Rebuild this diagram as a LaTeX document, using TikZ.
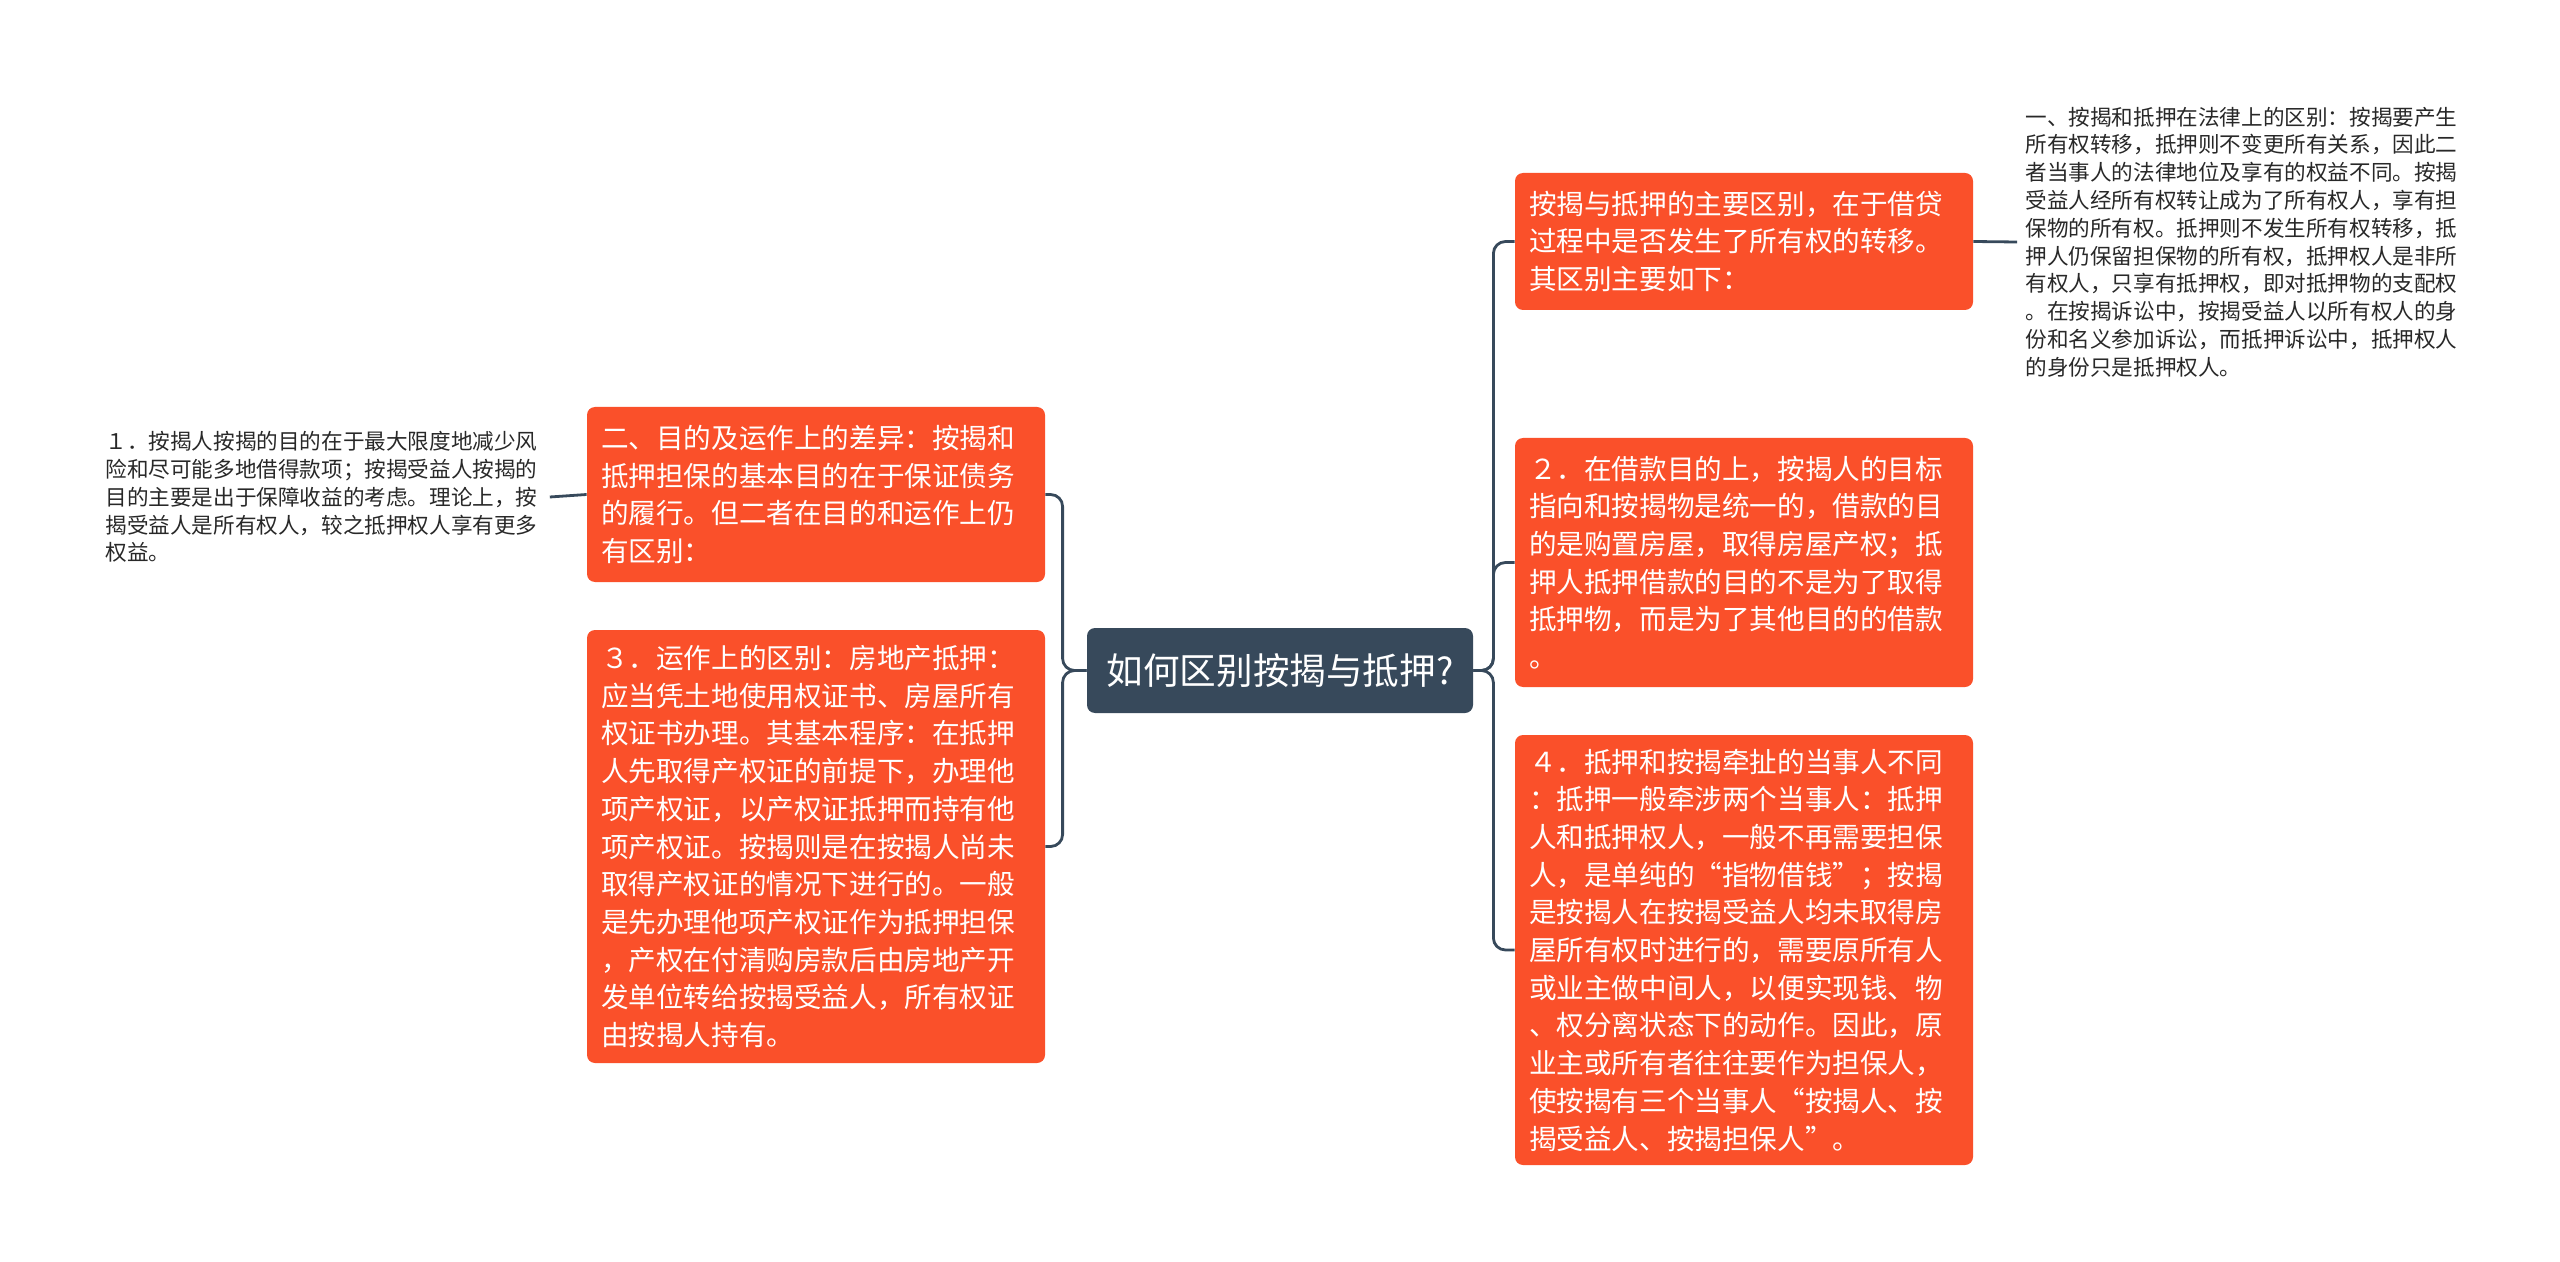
\documentclass[tikz,border=0pt]{standalone}
\usepackage{fontspec}
\setmainfont{Noto Sans CJK SC}
\usepackage{xcolor}
\usetikzlibrary{positioning}
\definecolor{rootc}{RGB}{55,73,91}
\definecolor{boxc}{RGB}{250,80,42}
\definecolor{linkc}{RGB}{55,73,91}
\definecolor{notec}{RGB}{40,40,40}
\tikzset{%
	root/.style   = {rectangle, rounded corners=4pt, fill=rootc, text=white, minimum width=193pt, minimum height=42.5pt, inner sep=0pt, font=\fontsize{18.3}{22}\selectfont},
	branch/.style = {rectangle, rounded corners=4pt, fill=boxc, text=white, text width=215pt, inner xsep=7pt, inner ysep=0pt, align=left, font=\fontsize{13.8}{18.85}\selectfont},
	note/.style   = {text=notec, text width=218pt, inner xsep=4pt, inner ysep=0pt, align=left, font=\fontsize{10.8}{13.9}\selectfont},
	link/.style   = {draw=linkc, line width=1.4pt, rounded corners=6pt},
}
\begin{document}
\begin{tikzpicture}[x=0.5pt,y=-0.5pt]
	\useasboundingbox (0,0) rectangle (2560,1262);
	
	\node[root] (root) at (1280,670.5) {如何区别按揭与抵押?};
	
	% right side
	\node[branch, minimum height=68.5pt] (r1) at (1744,241.5) {按揭与抵押的主要区别，在于借贷\\过程中是否发生了所有权的转移。\\其区别主要如下：};
	\node[branch, minimum height=124.5pt] (r2) at (1744,562.5) {２．在借款目的上，按揭人的目标\\指向和按揭物是统一的，借款的目\\的是购置房屋，取得房屋产权；抵\\押人抵押借款的目的不是为了取得\\抵押物，而是为了其他目的的借款\\。};
	\node[branch, minimum height=215pt] (r3) at (1744,950) {４．抵押和按揭牵扯的当事人不同\\：抵押一般牵涉两个当事人：抵押\\人和抵押权人，一般不再需要担保\\人，是单纯的“指物借钱”；按揭\\是按揭人在按揭受益人均未取得房\\屋所有权时进行的，需要原所有人\\或业主做中间人，以便实现钱、物\\、权分离状态下的动作。因此，原\\业主或所有者往往要作为担保人，\\使按揭有三个当事人“按揭人、按\\揭受益人、按揭担保人”。};
	\node[note, anchor=west] (rnote) at (2017,242) {一、按揭和抵押在法律上的区别：按揭要产生\\所有权转移，抵押则不变更所有关系，因此二\\者当事人的法律地位及享有的权益不同。按揭\\受益人经所有权转让成为了所有权人，享有担\\保物的所有权。抵押则不发生所有权转移，抵\\押人仍保留担保物的所有权，抵押权人是非所\\有权人，只享有抵押权，即对抵押物的支配权\\。在按揭诉讼中，按揭受益人以所有权人的身\\份和名义参加诉讼，而抵押诉讼中，抵押权人\\的身份只是抵押权人。};
	
	% left side
	\node[branch, minimum height=87.5pt] (l1) at (816,494.5) {二、目的及运作上的差异：按揭和\\抵押担保的基本目的在于保证债务\\的履行。但二者在目的和运作上仍\\有区别：};
	\node[branch, minimum height=216.5pt] (l2) at (816,846.5) {３．运作上的区别：房地产抵押：\\应当凭土地使用权证书、房屋所有\\权证书办理。其基本程序：在抵押\\人先取得产权证的前提下，办理他\\项产权证，以产权证抵押而持有他\\项产权证。按揭则是在按揭人尚未\\取得产权证的情况下进行的。一般\\是先办理他项产权证作为抵押担保\\，产权在付清购房款后由房地产开\\发单位转给按揭受益人，所有权证\\由按揭人持有。};
	\node[note, anchor=west] (lnote) at (97,497) {１．按揭人按揭的目的在于最大限度地减少风\\险和尽可能多地借得款项；按揭受益人按揭的\\目的主要是出于保障收益的考虑。理论上，按\\揭受益人是所有权人，较之抵押权人享有更多\\权益。};
	
	% connectors
	\draw[link] (root.east) -- ++(10pt,0) |- (r1.west);
	\draw[link] (root.east) -- ++(10pt,0) |- (r2.west);
	\draw[link] (root.east) -- ++(10pt,0) |- (r3.west);
	\draw[link] (root.west) -- ++(-12pt,0) |- (l1.east);
	\draw[link] (root.west) -- ++(-12pt,0) |- (l2.east);
	\draw[link] (r1.east) -- (rnote.west);
	\draw[link] (l1.west) -- (lnote.east);
\end{tikzpicture}
\end{document}
